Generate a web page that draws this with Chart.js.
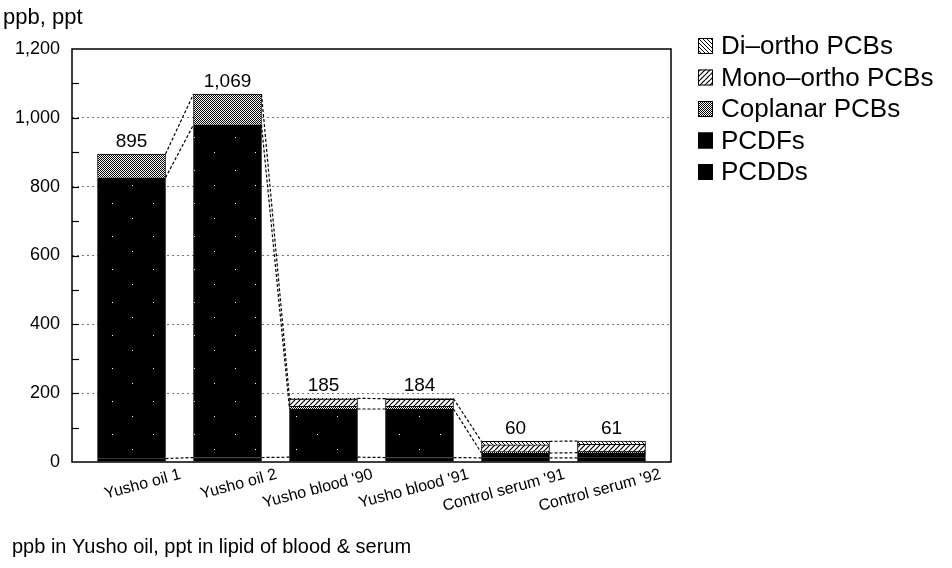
<!DOCTYPE html>
<html>
<head>
<meta charset="utf-8">
<title>Yusho oil, blood and serum</title>
<script src="https://cdn.jsdelivr.net/npm/chart.js@4/dist/chart.umd.min.js"></script>
<style>
  html, body { margin: 0; padding: 0; background: #fff; }
  .wrap { position: relative; width: 952px; height: 568px; }
</style>
</head>
<body>
<div class="wrap"><canvas id="chart" width="952" height="568"></canvas></div>
<script>
// Categories and stacked components (ppb in oil, ppt in lipid of blood & serum)
const categories = ['Yusho oil 1', 'Yusho oil 2', "Yusho blood '90", "Yusho blood '91", "Control serum '91", "Control serum '92"];
const pcdds     = [10, 13, 14, 13, 12, 12];
const pcdfs     = [816, 967, 140, 141, 14, 15];
const coplanar  = [69, 89, 8, 8, 4, 4];
const monoOrtho = [0, 0, 21, 20, 20, 20];
const diOrtho   = [0, 0, 2, 2, 10, 10];
const yTicks = [0, 200, 400, 600, 800, 1000, 1200];

const FONT = "'Liberation Sans', Arial, sans-serif";

// hatch patterns
function makePattern(w, h, draw) {
  const c = document.createElement('canvas');
  c.width = w; c.height = h;
  const g = c.getContext('2d');
  g.fillStyle = '#fff';
  g.fillRect(0, 0, w, h);
  draw(g, w, h);
  return g.createPattern(c, 'repeat');
}
const solidBlack = '#000';
const dotBlack = makePattern(41, 33, (g, w, h) => {
  g.fillStyle = '#000'; g.fillRect(0, 0, w, h);
  g.fillStyle = '#fff'; g.fillRect(9, 20, 1, 1); g.fillRect(30, 5, 1, 1);
});
const checker = makePattern(4, 4, (g) => {
  g.fillStyle = '#000';
  g.fillRect(0, 0, 1, 1); g.fillRect(2, 0, 1, 1);
  g.fillRect(1, 1, 1, 1); g.fillRect(3, 1, 1, 1);
  g.fillRect(0, 2, 1, 1); g.fillRect(2, 2, 1, 1);
  g.fillRect(1, 3, 1, 1); g.fillRect(3, 3, 1, 1);
});
const slashHatch = makePattern(5, 5, (g, s) => {
  g.strokeStyle = '#000'; g.lineWidth = 1.2;
  for (let k = -1; k <= 1; k++) {
    g.beginPath(); g.moveTo(k * s, s); g.lineTo(k * s + s, 0); g.stroke();
  }
});
const backHatch = makePattern(4, 4, (g, s) => {
  g.strokeStyle = '#000'; g.lineWidth = 1;
  for (let k = -1; k <= 1; k++) {
    g.beginPath(); g.moveTo(k * s, 0); g.lineTo(k * s + s, s); g.stroke();
  }
});

const toPoints = arr => arr.map((v, i) => ({ x: i, y: v }));

const datasets = [
  { label: 'PCDDs', data: toPoints(pcdds), backgroundColor: solidBlack },
  { label: 'PCDFs', data: toPoints(pcdfs), backgroundColor: dotBlack },
  { label: 'Coplanar PCBs', data: toPoints(coplanar), backgroundColor: checker },
  { label: 'Mono\u2013ortho PCBs', data: toPoints(monoOrtho), backgroundColor: slashHatch },
  { label: 'Di\u2013ortho PCBs', data: toPoints(diOrtho), backgroundColor: backHatch }
].map(d => Object.assign(d, { borderColor: '#000', borderWidth: 1, barThickness: 68 }));

// frame, inner ticks, connectors, totals, legend, captions
const decor = {
  id: 'decor',
  afterDatasetsDraw(chart) {
    const { ctx, chartArea: a, scales: { y } } = chart;
    ctx.save();
    ctx.strokeStyle = '#000';
    ctx.lineWidth = 1.5;
    ctx.strokeRect(a.left, a.top, a.right - a.left, a.bottom - a.top);

    ctx.lineWidth = 1.2;
    for (let v = 100; v < 1200; v += 100) {
      const py = Math.round(y.getPixelForValue(v)) + 0.5;
      ctx.beginPath(); ctx.moveTo(a.left, py); ctx.lineTo(a.left + 7, py); ctx.stroke();
    }

    // dashed connectors between neighbouring bars
    ctx.setLineDash([3, 2]);
    ctx.lineWidth = 1.2;
    const levels = [0, 1, 4];
    for (const d of levels) {
      const bars = chart.getDatasetMeta(d).data;
      for (let i = 0; i < bars.length - 1; i++) {
        const b1 = bars[i], b2 = bars[i + 1];
        ctx.beginPath();
        ctx.moveTo(b1.x + b1.width / 2, b1.y);
        ctx.lineTo(b2.x - b2.width / 2, b2.y);
        ctx.stroke();
      }
    }
    ctx.setLineDash([]);

    // totals above bars
    const top = chart.getDatasetMeta(4).data;
    ctx.fillStyle = '#000';
    ctx.font = '19px ' + FONT;
    ctx.textAlign = 'center';
    ctx.textBaseline = 'bottom';
    top.forEach((b, i) => {
      const total = pcdds[i] + pcdfs[i] + coplanar[i] + monoOrtho[i] + diOrtho[i];
      ctx.fillText(total.toLocaleString('en-US'), b.x, b.y - 3);
    });

    // legend (top item = top of stack)
    ctx.font = '26px ' + FONT;
    ctx.textAlign = 'left';
    ctx.textBaseline = 'middle';
    const items = chart.data.datasets.slice().reverse();
    items.forEach((ds, k) => {
      const cy = 46 + k * 31.5;
      ctx.fillStyle = ds.backgroundColor;
      ctx.fillRect(698, cy - 8, 15, 16);
      ctx.lineWidth = 1;
      ctx.strokeRect(698.5, cy - 7.5, 14, 15);
      ctx.fillStyle = '#000';
      ctx.fillText(ds.label, 721, cy + 1);
    });

    // axis title and footnote
    ctx.font = '22px ' + FONT;
    ctx.textBaseline = 'alphabetic';
    ctx.fillText('ppb, ppt', 3, 24);
    ctx.font = '20px ' + FONT;
    ctx.fillText('ppb in Yusho oil, ppt in lipid of blood & serum', 12, 553);
    ctx.restore();
  }
};

new Chart(document.getElementById('chart'), {
  type: 'bar',
  data: { datasets },
  plugins: [decor],
  options: {
    responsive: false,
    animation: false,
    layout: { autoPadding: false, padding: { left: 0, top: 49, right: 281, bottom: 0 } },
    plugins: { legend: { display: false }, tooltip: { enabled: false } },
    scales: {
      x: {
        type: 'linear',
        stacked: true,
        offset: false,
        min: -0.62,
        max: 5.62,
        afterBuildTicks: s => { s.ticks = categories.map((c, i) => ({ value: i })); },
        afterFit: s => { s.height = 106; },
        grid: { display: false, drawTicks: false, offset: false },
        border: { display: false },
        ticks: {
          autoSkip: false,
          minRotation: 15,
          maxRotation: 15,
          labelOffset: 49,
          padding: 3,
          color: '#000',
          font: { family: FONT, size: 16 },
          callback: v => categories[v]
        }
      },
      y: {
        stacked: true,
        min: 0,
        max: 1200,
        afterBuildTicks: s => { s.ticks = yTicks.map(v => ({ value: v })); },
        afterFit: s => { s.width = 72; },
        grid: {
          drawTicks: false,
          lineWidth: 1,
          color: c => (c.tick && c.tick.value > 0 && c.tick.value < 1200) ? '#777' : 'rgba(0,0,0,0)'
        },
        border: { display: false, dash: [2, 3] },
        ticks: {
          padding: 12,
          color: '#000',
          font: { family: FONT, size: 18 },
          callback: v => v.toLocaleString('en-US')
        }
      }
    }
  }
});
</script>
</body>
</html>
